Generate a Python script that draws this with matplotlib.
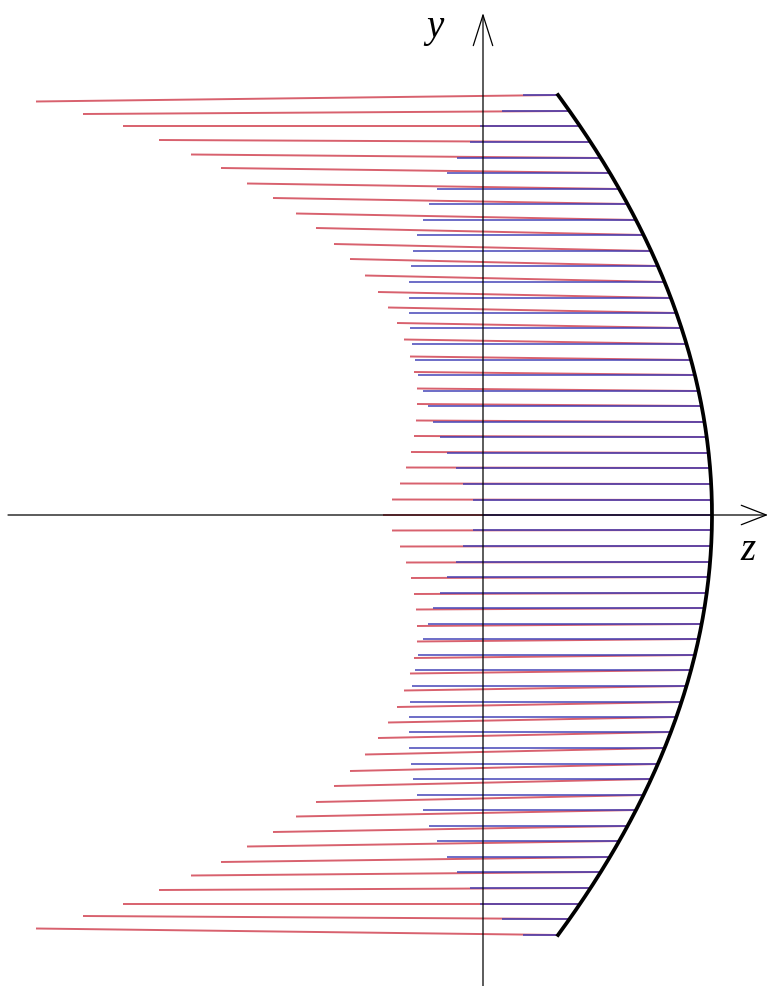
import numpy as np
import matplotlib.pyplot as plt

# ray heights above the axis (picture units, mirrored below)
ray_height = [0, 15, 31, 47, 62, 78, 93, 109, 124, 140, 155, 171, 187, 202,
              217, 233, 249, 264, 280, 295, 311, 326, 342, 357, 373, 389, 404, 420]
# z where each blue (incident) ray starts
blue_start = [0, -10, -20, -27, -36, -43, -50, -55, -60, -65, -68, -71, -73, -74,
              -74, -74, -72, -70, -66, -60, -54, -46, -36, -26, -13, -3, 19, 40]
# z where each red (reflected) ray ends on the left
red_end = [-100, -91, -83, -77, -72, -69, -67, -66, -66, -69, -73, -79, -86, -95,
           -105, -118, -133, -149, -167, -187, -210, -236, -262, -292, -324, -360, -400, -447]
# vertical drift of the red ray at its left end (away from the axis)
red_drift = [0, 0.5, 0.5, 0.5, 1, 1, 1.5, 2, 2.5, 3, 3.5, 4.5, 5, 5.5,
             6, 6.5, 7, 7, 7, 6.5, 6, 5.5, 5, 3.5, 2, 0, -3, -6.5]

# mirror: parabola through vertex and the two edges
MIRROR_VERTEX = 229
MIRROR_SAG = 154
APERTURE = 420


def mirror_z(h):
    return MIRROR_VERTEX - MIRROR_SAG * (np.asarray(h) / APERTURE) ** 2


fig = plt.figure(figsize=(7.69, 9.86), dpi=100)
ax = fig.add_axes([0, 0, 1, 1])
ax.set_xlim(-483, 286)
ax.set_ylim(-471, 515)
ax.axis("off")

RED = "#d4505e"
BLUE = "#3c3cb4"

rays = []
for h, zb, zr, d in zip(ray_height, blue_start, red_end, red_drift):
    rays.append((h, zb, zr, d))
    if h > 0:
        rays.append((-h, zb, zr, -d))

for h, zb, zr, d in rays:
    zm = mirror_z(h)
    ax.plot([zm, zr], [h, h + d], color=RED, lw=1.4, alpha=0.9,
            solid_capstyle="butt", zorder=2)
for h, zb, zr, d in rays:
    zm = mirror_z(h)
    ax.plot([zb, zm], [h, h], color=BLUE, lw=1.4, alpha=0.75,
            solid_capstyle="butt", zorder=3)

# axes with open arrow heads
ax.annotate("", xy=(285, 0), xytext=(-475, 0),
            arrowprops=dict(arrowstyle="->,head_length=1.8,head_width=0.7",
                            color="black", lw=0.9, shrinkA=0, shrinkB=0), zorder=4)
ax.annotate("", xy=(0, 502), xytext=(0, -471),
            arrowprops=dict(arrowstyle="->,head_length=2.2,head_width=0.7",
                            color="black", lw=0.9, shrinkA=0, shrinkB=0), zorder=4)

# mirror
hh = np.linspace(-APERTURE, APERTURE, 200)
ax.plot(mirror_z(hh), hh, color="black", lw=2.7, zorder=5)

ax.text(-48, 487, "y", fontsize=28, style="italic", family="Liberation Serif",
        ha="center", va="center")
ax.text(265, -35, "z", fontsize=28, style="italic", family="Liberation Serif",
        ha="center", va="center")

fig.savefig("out.png", dpi=100)
